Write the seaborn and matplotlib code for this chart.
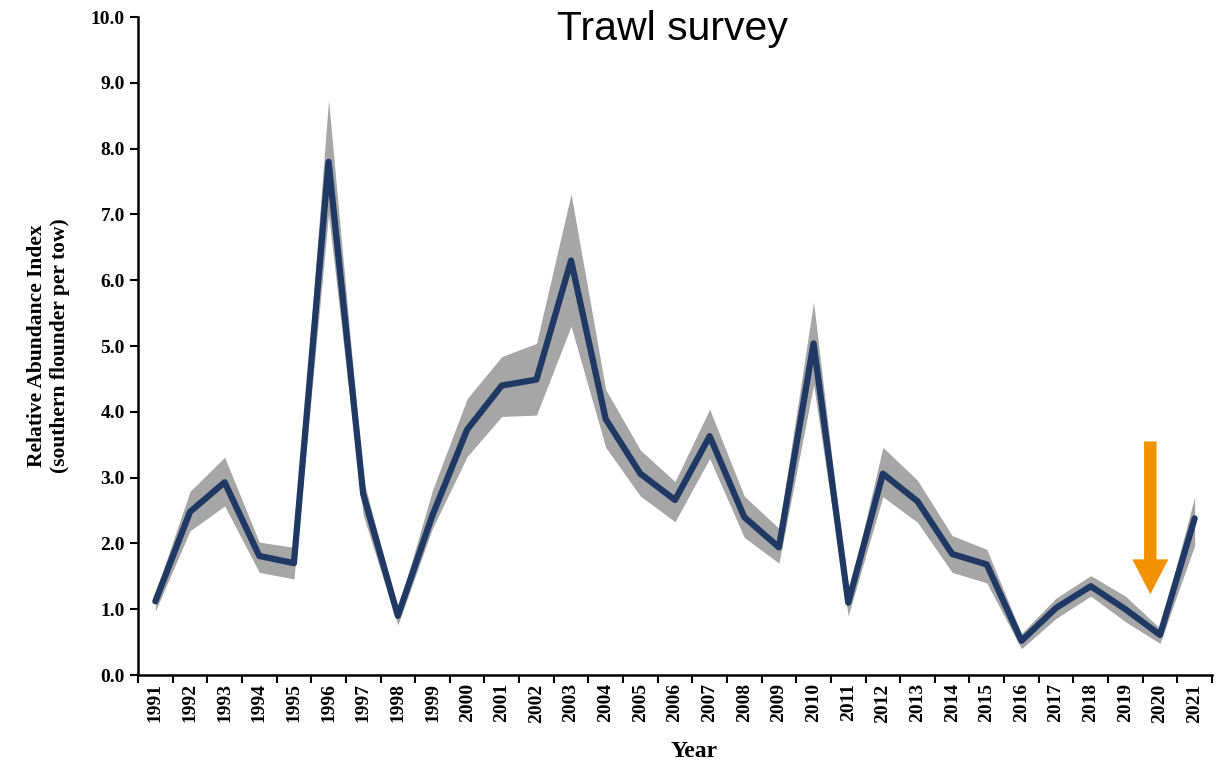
import matplotlib
matplotlib.use("Agg")
import matplotlib.pyplot as plt
import seaborn as sns
import numpy as np
import pandas as pd

# Trawl survey index
years = list(range(1991, 2022))
index_mean = [1.12, 2.48, 2.93, 1.81, 1.70, 7.80, 2.75, 0.90, 2.43, 3.73,
              4.40, 4.49, 6.30, 3.89, 3.06, 2.66, 3.63, 2.40, 1.94, 5.04,
              1.10, 3.06, 2.64, 1.84, 1.68, 0.52, 1.02, 1.35, 1.00, 0.61,
              2.38]
index_upper = [1.25, 2.79, 3.31, 2.02, 1.94, 8.74, 2.98, 1.00, 2.81, 4.20,
               4.84, 5.04, 7.31, 4.34, 3.42, 2.94, 4.04, 2.72, 2.23, 5.67,
               1.20, 3.46, 2.96, 2.12, 1.91, 0.63, 1.17, 1.51, 1.20, 0.71,
               2.71]
index_lower = [0.97, 2.19, 2.57, 1.56, 1.46, 7.00, 2.43, 0.76, 2.23, 3.32,
               3.93, 3.95, 5.30, 3.46, 2.72, 2.33, 3.29, 2.09, 1.70, 4.41,
               0.90, 2.71, 2.32, 1.56, 1.40, 0.40, 0.86, 1.20, 0.81, 0.48,
               1.97]

df = pd.DataFrame({'Year': years, 'Index': index_mean,
                   'Upper': index_upper, 'Lower': index_lower})

sns.set_style('white')
plt.rcParams['font.family'] = ['Liberation Serif', 'DejaVu Serif']
plt.rcParams['text.color'] = 'black'
plt.rcParams['axes.labelcolor'] = 'black'
plt.rcParams['xtick.color'] = 'black'
plt.rcParams['ytick.color'] = 'black'

fig = plt.figure(figsize=(12.16, 7.75), dpi=100)
ax = fig.add_axes([0.1135, 0.129, 0.8832, 0.849])

# confidence band and mean line
ax.fill_between(df['Year'], df['Lower'], df['Upper'], color='#A6A6A6', linewidth=0)
sns.lineplot(data=df, x='Year', y='Index', ax=ax, color='#1F3864', linewidth=4.5)

# highlight arrow at 2020
ax.annotate('', xy=(2019.72, 1.23), xytext=(2019.72, 3.55),
            arrowprops=dict(facecolor='#F39200', edgecolor='none',
                            width=9, headwidth=26, headlength=25))

ax.set_xlim(1990.5, 2021.5)
ax.set_ylim(0, 10)
ax.set_yticks(np.arange(0, 11, 1))
ax.set_yticklabels([f'{v:.1f}' for v in np.arange(0, 11, 1)],
                   fontsize=14, fontweight='bold')

# ticks on category boundaries, labels in the middle
ax.set_xticks(np.arange(1990.5, 2022, 1))
ax.set_xticklabels([])
ax.set_xticks(years, minor=True)
ax.set_xticklabels([str(y) for y in years], minor=True, rotation=90,
                   fontsize=14, fontweight='bold')
ax.tick_params(axis='x', which='minor', length=0, pad=6)
ax.tick_params(axis='both', which='major', direction='out', length=6,
               width=1.5, color='black', left=True, bottom=True)

sns.despine(ax=ax)
for side in ['left', 'bottom']:
    ax.spines[side].set_linewidth(1.8)
    ax.spines[side].set_color('black')

ax.set_xlabel('Year', fontsize=17, fontweight='bold', labelpad=13, x=0.518)
ax.set_ylabel('Relative Abundance Index\n(southern flounder per tow)',
              fontsize=15.5, fontweight='bold', labelpad=15)

fig.text(0.553, 0.962, 'Trawl survey', ha='center', va='center',
         fontsize=29.5, family='Liberation Sans', color='black')

fig.savefig('out.png', dpi=100)
